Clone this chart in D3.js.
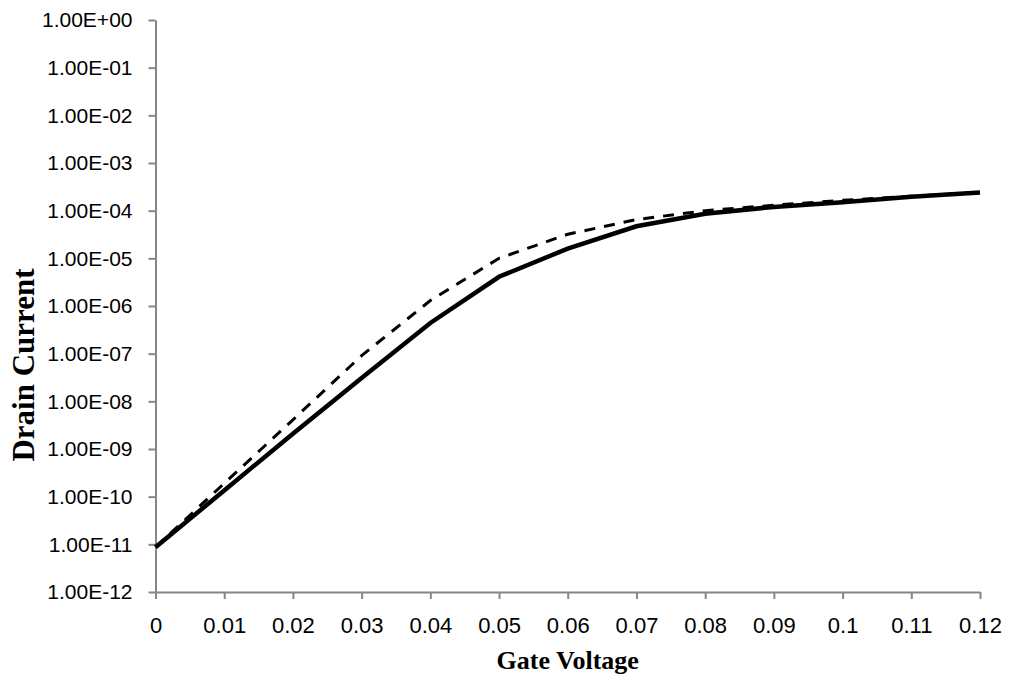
<!DOCTYPE html>
<html>
<head>
<meta charset="utf-8">
<script src="https://cdn.jsdelivr.net/npm/d3@7"></script>
<style>
  body { margin: 0; background: #fff; }
  .axis path, .axis line { stroke: #868686; stroke-width: 2; }
  .axis text { fill: #000; font-family: "Liberation Sans", Arial, sans-serif; }
  .title { font-family: "Liberation Serif", "Times New Roman", serif; font-weight: bold; fill: #000; }
</style>
</head>
<body>
<div id="chart"></div>
<script>
// gate voltage points
const gateVoltage = [0, 0.01, 0.02, 0.03, 0.04, 0.05, 0.06, 0.07, 0.08, 0.09, 0.1, 0.11, 0.12];
// solid curve
const currentSolid = [8.7e-12, 1.35e-10, 2.1e-9, 3.1e-8, 4.4e-7, 4.1e-6, 1.6e-5, 4.7e-5, 8.6e-5, 1.2e-4, 1.5e-4, 1.95e-4, 2.4e-4];
// dashed curve
const currentDashed = [8.7e-12, 1.9e-10, 4.1e-9, 9.1e-8, 1.3e-6, 1.0e-5, 3.2e-5, 6.5e-5, 1.0e-4, 1.3e-4, 1.65e-4, 2.0e-4, 2.4e-4];
// axis ticks
const xTicks = [0, 0.01, 0.02, 0.03, 0.04, 0.05, 0.06, 0.07, 0.08, 0.09, 0.1, 0.11, 0.12];
const yTicks = [1e-12, 1e-11, 1e-10, 1e-9, 1e-8, 1e-7, 1e-6, 1e-5, 1e-4, 1e-3, 1e-2, 1e-1, 1];

const width = 1011, height = 683;
const margin = {left: 155.5, right: 31, top: 20, bottom: 91};

const svg = d3.select('#chart').append('svg')
    .attr('width', width)
    .attr('height', height);

const x = d3.scaleLinear()
    .domain([0, 0.12])
    .range([margin.left, width - margin.right]);

const y = d3.scaleLog()
    .domain([1e-12, 1])
    .range([height - margin.bottom, margin.top]);

// excel style 1.00E-05 labels
function sci(d) {
    const e = Math.round(Math.log10(d));
    const s = e < 0 ? '-' : '+';
    return '1.00E' + s + String(Math.abs(e)).padStart(2, '0');
}

const yAxis = svg.append('g')
    .attr('class', 'axis')
    .attr('transform', `translate(${margin.left},0)`)
    .call(d3.axisLeft(y).tickValues(yTicks).tickFormat(sci).tickSize(7).tickSizeOuter(0).tickPadding(16));
yAxis.selectAll('text').style('font-size', '21px');

const xAxis = svg.append('g')
    .attr('class', 'axis')
    .attr('transform', `translate(0,${height - margin.bottom})`)
    .call(d3.axisBottom(x).tickValues(xTicks).tickFormat(d => String(+d.toFixed(2))).tickSize(7).tickSizeOuter(0).tickPadding(18));
xAxis.selectAll('text').style('font-size', '22px');

const line = d3.line()
    .x((d, i) => x(gateVoltage[i]))
    .y(d => y(d));

svg.append('path')
    .datum(currentDashed)
    .attr('fill', 'none')
    .attr('stroke', '#000')
    .attr('stroke-width', 3)
    .attr('stroke-dasharray', '11,9')
    .attr('d', line);

svg.append('path')
    .datum(currentSolid)
    .attr('fill', 'none')
    .attr('stroke', '#000')
    .attr('stroke-width', 4.5)
    .attr('d', line);

// axis titles
svg.append('text')
    .attr('class', 'title')
    .attr('x', (margin.left + width - margin.right) / 2)
    .attr('y', 669)
    .attr('text-anchor', 'middle')
    .style('font-size', '26px')
    .text('Gate Voltage');

svg.append('text')
    .attr('class', 'title')
    .attr('transform', 'translate(34,365) rotate(-90)')
    .attr('text-anchor', 'middle')
    .style('font-size', '31px')
    .text('Drain Current');
</script>
</body>
</html>
